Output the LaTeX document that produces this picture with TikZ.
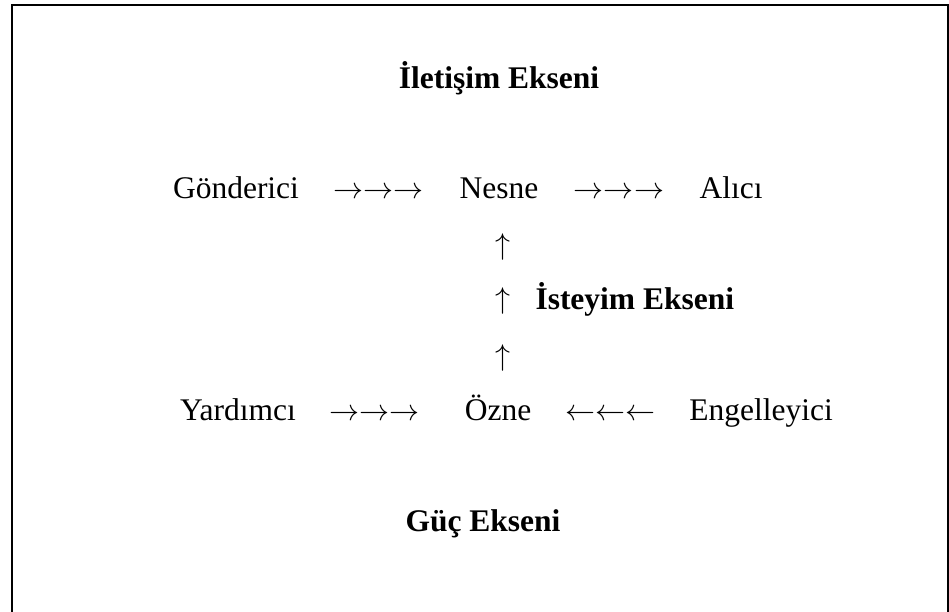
\documentclass[tikz,border=0pt]{standalone}
\usepackage{fontspec}
\setmainfont{Liberation Serif}
\begin{document}
\begin{tikzpicture}[x=0.4pt,y=-0.4pt]

    \tikzset{
      actant/.style={
        anchor=base,
        inner sep=0pt,
        font=\fontsize{12.6}{15}\selectfont,
      },
      axisname/.style={
        actant,
        font=\fontsize{12.6}{15}\selectfont\bfseries,
      },
    }
    \clip (0,0) rectangle (949,612);
    \draw[line width=0.8pt] (12,5) rectangle (948,700);

    \node[axisname] (iletisim) at (499,89) {İletişim Ekseni};

    \node[actant] (gonderici) at (236,199) {Gönderici};
    \node[actant] (gn) at (379,199) {$\rightarrow\rightarrow\rightarrow$};
    \node[actant] (nesne) at (499,199) {Nesne};
    \node[actant] (na) at (619,199) {$\rightarrow\rightarrow\rightarrow$};
    \node[actant] (alici) at (731,199) {Alıcı};

    \node[actant] (up1) at (503,255) {$\uparrow$};
    \node[actant] (up2) at (503,309) {$\uparrow$};
    \node[actant] (up3) at (503,366) {$\uparrow$};
    \node[axisname,anchor=base west] (isteyim) at (535,310) {İsteyim Ekseni};

    \node[actant] (yardimci) at (238,421) {Yardımcı};
    \node[actant] (yo) at (375,421) {$\rightarrow\rightarrow\rightarrow$};
    \node[actant] (ozne) at (498,421) {Özne};
    \node[actant] (eo) at (610,421) {$\leftarrow\leftarrow\leftarrow$};
    \node[actant] (engelleyici) at (761,421) {Engelleyici};

    \node[axisname] (guc) at (483,532) {Güç Ekseni};

\end{tikzpicture}
\end{document}
